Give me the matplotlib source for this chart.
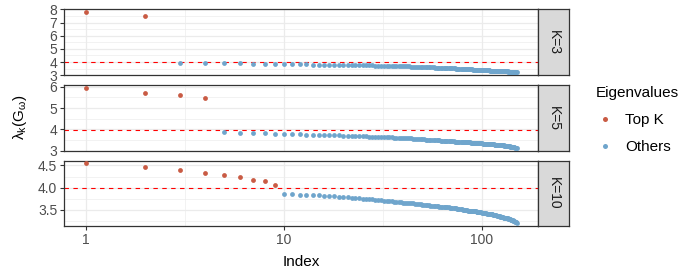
import numpy as np
import matplotlib
matplotlib.use("Agg")
import matplotlib.pyplot as plt
from matplotlib.ticker import FixedLocator, NullFormatter
from matplotlib.lines import Line2D

plt.rcParams["font.family"] = ["Liberation Sans", "DejaVu Sans"]
plt.rcParams["mathtext.fontset"] = "custom"
plt.rcParams["mathtext.rm"] = "Liberation Sans"
plt.rcParams["mathtext.it"] = "Liberation Sans"
plt.rcParams["mathtext.default"] = "regular"

# ---------------- data ----------------
facet_labels = ["K=3", "K=5", "K=10"]
n_top = [2, 4, 9]          # points drawn as "Top K" in each facet
threshold = 3.98

eig_k3 = [
    7.78, 7.47, 3.93, 3.92, 3.92, 3.91, 3.88, 3.87, 3.87, 3.86,
    3.85, 3.84, 3.83, 3.81, 3.80, 3.80, 3.79, 3.79, 3.78, 3.77,
    3.77, 3.76, 3.76, 3.76, 3.75, 3.75, 3.74, 3.74, 3.73, 3.73,
    3.73, 3.72, 3.72, 3.71, 3.71, 3.70, 3.70, 3.70, 3.69, 3.69,
    3.68, 3.68, 3.67, 3.66, 3.66, 3.65, 3.64, 3.63, 3.63, 3.62,
    3.62, 3.61, 3.61, 3.60, 3.60, 3.59, 3.59, 3.58, 3.58, 3.57,
    3.57, 3.56, 3.56, 3.55, 3.54, 3.54, 3.53, 3.53, 3.53, 3.52,
    3.52, 3.51, 3.51, 3.50, 3.50, 3.50, 3.49, 3.49, 3.48, 3.48,
    3.47, 3.47, 3.46, 3.46, 3.45, 3.45, 3.45, 3.44, 3.44, 3.43,
    3.43, 3.42, 3.42, 3.41, 3.41, 3.41, 3.40, 3.40, 3.39, 3.39,
    3.39, 3.38, 3.38, 3.37, 3.37, 3.37, 3.36, 3.36, 3.36, 3.35,
    3.35, 3.35, 3.34, 3.34, 3.34, 3.34, 3.33, 3.33, 3.33, 3.33,
    3.32, 3.32, 3.32, 3.32, 3.31, 3.31, 3.31, 3.31, 3.30, 3.30,
    3.30, 3.30, 3.29, 3.29, 3.29, 3.28, 3.28, 3.28, 3.27, 3.27,
    3.27, 3.26, 3.26, 3.26, 3.25, 3.25, 3.24, 3.24, 3.23, 3.22,
]

eig_k5 = [
    5.95, 5.72, 5.63, 5.45, 3.88, 3.84, 3.83, 3.83, 3.80, 3.79,
    3.79, 3.78, 3.76, 3.75, 3.74, 3.74, 3.73, 3.73, 3.72, 3.71,
    3.71, 3.70, 3.70, 3.69, 3.69, 3.68, 3.67, 3.67, 3.66, 3.66,
    3.65, 3.65, 3.64, 3.63, 3.63, 3.62, 3.62, 3.61, 3.61, 3.60,
    3.60, 3.59, 3.58, 3.58, 3.57, 3.56, 3.56, 3.55, 3.55, 3.54,
    3.54, 3.53, 3.53, 3.52, 3.52, 3.51, 3.51, 3.50, 3.50, 3.49,
    3.49, 3.48, 3.48, 3.47, 3.47, 3.46, 3.46, 3.45, 3.45, 3.44,
    3.44, 3.44, 3.43, 3.43, 3.42, 3.42, 3.42, 3.41, 3.41, 3.41,
    3.41, 3.40, 3.40, 3.40, 3.39, 3.39, 3.39, 3.38, 3.38, 3.38,
    3.37, 3.37, 3.37, 3.37, 3.36, 3.36, 3.36, 3.35, 3.35, 3.35,
    3.34, 3.34, 3.34, 3.33, 3.33, 3.33, 3.32, 3.32, 3.32, 3.31,
    3.31, 3.31, 3.30, 3.30, 3.30, 3.29, 3.29, 3.29, 3.28, 3.28,
    3.28, 3.27, 3.27, 3.27, 3.26, 3.26, 3.25, 3.25, 3.25, 3.24,
    3.24, 3.23, 3.23, 3.22, 3.22, 3.22, 3.21, 3.21, 3.20, 3.20,
    3.20, 3.19, 3.19, 3.18, 3.17, 3.16, 3.15, 3.14, 3.13, 3.12,
]

eig_k10 = [
    4.545, 4.455, 4.39, 4.34, 4.295, 4.23, 4.16, 4.14, 4.05, 3.86,
    3.86, 3.84, 3.83, 3.82, 3.82, 3.81, 3.80, 3.80, 3.79, 3.78,
    3.78, 3.77, 3.76, 3.76, 3.75, 3.74, 3.73, 3.73, 3.72, 3.72,
    3.71, 3.70, 3.70, 3.69, 3.69, 3.68, 3.68, 3.67, 3.67, 3.66,
    3.66, 3.65, 3.65, 3.64, 3.64, 3.63, 3.63, 3.62, 3.62, 3.61,
    3.61, 3.60, 3.60, 3.60, 3.59, 3.59, 3.59, 3.58, 3.58, 3.58,
    3.57, 3.57, 3.56, 3.56, 3.56, 3.55, 3.55, 3.55, 3.54, 3.54,
    3.54, 3.53, 3.53, 3.53, 3.52, 3.52, 3.51, 3.51, 3.51, 3.50,
    3.50, 3.50, 3.49, 3.49, 3.48, 3.48, 3.48, 3.47, 3.47, 3.47,
    3.46, 3.46, 3.46, 3.45, 3.45, 3.45, 3.44, 3.44, 3.44, 3.43,
    3.43, 3.43, 3.42, 3.42, 3.42, 3.41, 3.41, 3.41, 3.40, 3.40,
    3.40, 3.39, 3.39, 3.38, 3.38, 3.38, 3.37, 3.37, 3.36, 3.36,
    3.36, 3.35, 3.35, 3.34, 3.34, 3.34, 3.33, 3.33, 3.32, 3.32,
    3.32, 3.31, 3.31, 3.30, 3.30, 3.29, 3.29, 3.28, 3.28, 3.27,
    3.27, 3.26, 3.26, 3.25, 3.24, 3.24, 3.23, 3.22, 3.21, 3.19,
]

series = [eig_k3, eig_k5, eig_k10]
y_major = [[3, 4, 5, 6, 7, 8], [3, 4, 5, 6], [3.5, 4.0, 4.5]]
y_minor = [[3.5, 4.5, 5.5, 6.5, 7.5], [3.5, 4.5, 5.5], [3.25, 3.75, 4.25]]
y_fmt = ["{:.0f}", "{:.0f}", "{:.1f}"]
legend_labels = ["Top K", "Others"]

# ---------------- style ----------------
RED = "#C95B44"
BLUE = "#6FA5CC"
W, H = 700, 280
fig = plt.figure(figsize=(W / 100, H / 100), dpi=100)


def px_axes(left, top, right, bottom):
    return fig.add_axes([left / W, 1 - bottom / H, (right - left) / W, (bottom - top) / H])


rows = [(9.3, 75.3), (84.7, 151.3), (160.5, 226.3)]
pl, pr = 64.3, 538.3
sl, sr = 538.3, 568.7

for i, (vals, k) in enumerate(zip(series, n_top)):
    top, bot = rows[i]
    ax = px_axes(pl, top, pr, bot)
    vals = np.asarray(vals)
    idx = np.arange(1, len(vals) + 1)
    ax.set_xscale("log")
    lo, hi = np.log10(idx.min()), np.log10(idx.max())
    r = hi - lo
    ax.set_xlim(10 ** (lo - 0.05 * r), 10 ** (hi + 0.05 * r))
    yr = vals.max() - vals.min()
    ax.set_ylim(vals.min() - 0.05 * yr, vals.max() + 0.05 * yr)

    ax.xaxis.set_major_locator(FixedLocator([1, 10, 100]))
    ax.xaxis.set_minor_locator(FixedLocator([10 ** 0.5, 10 ** 1.5]))
    ax.xaxis.set_minor_formatter(NullFormatter())
    ax.yaxis.set_major_locator(FixedLocator(y_major[i]))
    ax.yaxis.set_minor_locator(FixedLocator(y_minor[i]))
    ax.set_yticklabels([y_fmt[i].format(v) for v in y_major[i]])
    if i == 2:
        ax.set_xticklabels(["1", "10", "100"])
    else:
        ax.set_xticklabels([])

    ax.grid(which="major", color="#EBEBEB", lw=0.9)
    ax.grid(which="minor", color="#EBEBEB", lw=0.45)
    ax.set_axisbelow(True)
    for s in ax.spines.values():
        s.set_color("#333333")
        s.set_linewidth(0.9)
    ax.tick_params(which="major", length=3, width=0.8, color="#333333",
                   labelcolor="#4D4D4D", labelsize=10, pad=2)
    ax.tick_params(which="minor", length=0)
    if i != 2:
        ax.tick_params(axis="x", which="major", length=0)

    ax.axhline(threshold, color="red", lw=0.8, ls=(0, (4, 4)), zorder=2)
    ax.scatter(idx[:k], vals[:k], s=12, color=RED, linewidths=0, zorder=3)
    ax.scatter(idx[k:], vals[k:], s=12, color=BLUE, linewidths=0, zorder=3)

    sax = px_axes(sl, top, sr, bot)
    sax.set_facecolor("#D9D9D9")
    sax.set_xticks([])
    sax.set_yticks([])
    for s in sax.spines.values():
        s.set_color("#333333")
        s.set_linewidth(0.9)
    sax.text(0.5, 0.5, facet_labels[i], rotation=270, ha="center", va="center",
             fontsize=10, color="#1A1A1A", transform=sax.transAxes)

fig.text((pl + pr) / 2 / W, 1 - 262 / H, "Index", ha="center", va="center",
         fontsize=11, color="black")
fig.text(20 / W, 1 - 117.6 / H, r"$\lambda_k(G_\omega)$", rotation=90,
         ha="center", va="center", fontsize=11, color="black")

handles = [Line2D([], [], marker="o", ls="", color=c, markersize=3.6, markeredgewidth=0)
           for c in (RED, BLUE)]
fig.legend(handles, legend_labels, title="Eigenvalues", loc="upper left",
           bbox_to_anchor=(590 / W, 1 - 80 / H), frameon=False, fontsize=11,
           title_fontsize=11, alignment="left", handlelength=1.2,
           handletextpad=0.7, labelspacing=0.85, borderaxespad=0)

fig.savefig("out.png", dpi=100)
